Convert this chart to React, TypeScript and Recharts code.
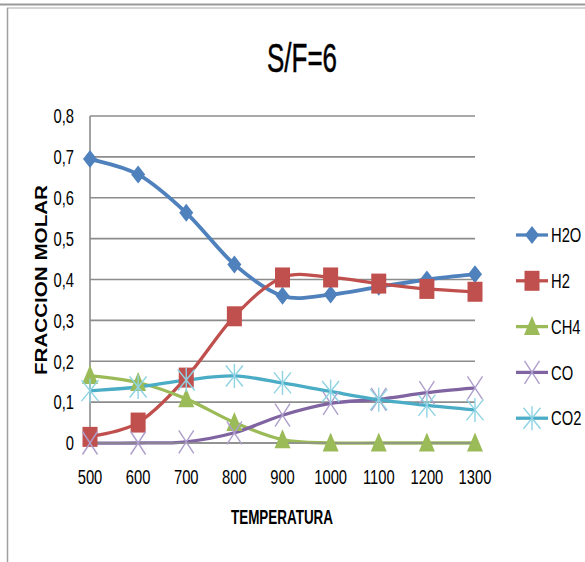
import { LineChart, Line, XAxis, YAxis, CartesianGrid, Legend } from 'recharts'

const temperatures = ['500', '600', '700', '800', '900', '1000', '1100', '1200', '1300']
const h2oValues = [0.695, 0.657, 0.563, 0.437, 0.36, 0.363, 0.382, 0.4, 0.413]
const h2Values = [0.015, 0.05, 0.16, 0.31, 0.405, 0.405, 0.39, 0.377, 0.37]
const ch4Values = [0.165, 0.148, 0.108, 0.05, 0.008, 0, 0, 0, 0]
const coValues = [0, 0, 0.003, 0.025, 0.068, 0.097, 0.107, 0.123, 0.135]
const co2Values = [0.128, 0.137, 0.154, 0.164, 0.147, 0.126, 0.106, 0.092, 0.081]
const yTicks = [0, 0.1, 0.2, 0.3, 0.4, 0.5, 0.6, 0.7, 0.8]

const FONT = "'Liberation Sans', Arial, sans-serif"
const GRID = '#8c8c8c'
// labels are drawn tall and narrow
const SQUEEZE = 0.72

type Marker = 'diamond' | 'square' | 'triangle' | 'cross' | 'star'

const SERIES: { key: string; name: string; values: number[]; color: string; markColor: string; marker: Marker; width: number }[] = [
  { key: 'h2o', name: 'H2O', values: h2oValues, color: '#4F81BD', markColor: '#4F81BD', marker: 'diamond', width: 3.8 },
  { key: 'h2', name: 'H2', values: h2Values, color: '#C0504D', markColor: '#C0504D', marker: 'square', width: 3.3 },
  { key: 'ch4', name: 'CH4', values: ch4Values, color: '#9BBB59', markColor: '#9BBB59', marker: 'triangle', width: 3.3 },
  { key: 'co', name: 'CO', values: coValues, color: '#8064A2', markColor: '#AE9ECB', marker: 'cross', width: 3.3 },
  { key: 'co2', name: 'CO2', values: co2Values, color: '#4BACC6', markColor: '#8ED3E4', marker: 'star', width: 3.3 },
]

const data = temperatures.map((t, i) => {
  const row: Record<string, number | string> = { temp: t }
  SERIES.forEach((s) => {
    row[s.key] = s.values[i]
  })
  return row
})

// smooth curve through every point (cubic bezier, catmull-rom style handles)
function smoothCurve(context: any) {
  let pts: number[][] = []
  return {
    areaStart() {},
    areaEnd() {},
    lineStart() {
      pts = []
    },
    point(x: number, y: number) {
      pts.push([+x, +y])
    },
    lineEnd() {
      if (!pts.length) return
      context.moveTo(pts[0][0], pts[0][1])
      for (let i = 0; i < pts.length - 1; i++) {
        const p0 = pts[i - 1] || pts[i]
        const p1 = pts[i]
        const p2 = pts[i + 1]
        const p3 = pts[i + 2] || p2
        context.bezierCurveTo(
          p1[0] + (p2[0] - p0[0]) / 6,
          p1[1] + (p2[1] - p0[1]) / 6,
          p2[0] - (p3[0] - p1[0]) / 6,
          p2[1] - (p3[1] - p1[1]) / 6,
          p2[0],
          p2[1]
        )
      }
    },
  }
}

function MarkerShape({ type, x, y, color }: { type: Marker; x: number; y: number; color: string }) {
  switch (type) {
    case 'diamond':
      return <polygon points={`${x},${y - 9} ${x + 7},${y} ${x},${y + 9} ${x - 7},${y}`} fill={color} />
    case 'square':
      return <rect x={x - 7.5} y={y - 10} width={15} height={20} fill={color} />
    case 'triangle':
      return <polygon points={`${x},${y - 10.5} ${x + 8},${y + 8.5} ${x - 8},${y + 8.5}`} fill={color} />
    case 'cross':
      return (
        <g stroke={color} strokeWidth={1.4}>
          <line x1={x - 7.5} y1={y - 11.5} x2={x + 7.5} y2={y + 11.5} />
          <line x1={x - 7.5} y1={y + 11.5} x2={x + 7.5} y2={y - 11.5} />
        </g>
      )
    case 'star':
      return (
        <g stroke={color} strokeWidth={1.4}>
          <line x1={x - 8.5} y1={y - 10.5} x2={x + 8.5} y2={y + 10.5} />
          <line x1={x - 8.5} y1={y + 10.5} x2={x + 8.5} y2={y - 10.5} />
          <line x1={x} y1={y - 12} x2={x} y2={y + 12} />
        </g>
      )
  }
  return null
}

const makeDot = (type: Marker, color: string) => (props: any) => {
  const { cx, cy, index } = props
  if (cx == null || cy == null) return <g key={index} />
  return (
    <g key={index}>
      <MarkerShape type={type} x={cx} y={cy} color={color} />
    </g>
  )
}

function XTick(props: any) {
  const { x, y, payload } = props
  return (
    <text transform={`translate(${x},${y}) scale(${SQUEEZE},1)`} textAnchor="middle" dy="0.71em" fontFamily={FONT} fontSize={20.5} fill="#000">
      {payload.value}
    </text>
  )
}

function YTick(props: any) {
  const { x, y, payload } = props
  const v: number = payload.value
  const label = v === 0 ? '0' : v.toFixed(1).replace('.', ',')
  return (
    <text transform={`translate(${x},${y}) scale(${SQUEEZE},1)`} textAnchor="end" dy="0.355em" fontFamily={FONT} fontSize={20.5} fill="#000">
      {label}
    </text>
  )
}

function LegendBox({ payload }: any) {
  const shown = new Set((payload || []).map((p: any) => p.value))
  return (
    <svg width={70} height={210} style={{ overflow: 'visible' }}>
      {SERIES.filter((s) => shown.has(s.name)).map((s, i) => {
        const y = 13 + i * 45.8
        return (
          <g key={s.key}>
            <line x1={3} y1={y} x2={35} y2={y} stroke={s.color} strokeWidth={3.3} />
            <MarkerShape type={s.marker} x={19} y={y} color={s.markColor} />
            <text transform={`translate(38,${y}) scale(${SQUEEZE},1)`} dy="0.355em" fontFamily={FONT} fontSize={20.5} fill="#000">
              {s.name}
            </text>
          </g>
        )
      })}
    </svg>
  )
}

export default function App() {
  return (
    <div style={{ position: 'absolute', left: 0, top: 0, width: 585, height: 562, background: '#fff' }}>
      <svg width={585} height={562} style={{ position: 'absolute', left: 0, top: 0 }}>
        <line x1={0} y1={4.5} x2={585} y2={4.5} stroke="#9a9a9a" strokeWidth={2} />
        <line x1={7} y1={8} x2={585} y2={8} stroke="#c4c4c4" strokeWidth={1.5} />
        <line x1={7.5} y1={8} x2={7.5} y2={562} stroke="#a0a0a0" strokeWidth={1.5} />
        <text
          x={302}
          y={72}
          textAnchor="middle"
          fontFamily={FONT}
          fontSize={40}
          textLength={70}
          lengthAdjust="spacingAndGlyphs"
          fill="#000"
          stroke="#000"
          strokeWidth={0.5}
        >
          S/F=6
        </text>
        <text x={282} y={524} textAnchor="middle" fontFamily={FONT} fontSize={20} fontWeight="bold" textLength={102} lengthAdjust="spacingAndGlyphs" fill="#000">
          TEMPERATURA
        </text>
        <text
          x={0}
          y={0}
          transform="translate(47,280) rotate(-90)"
          textAnchor="middle"
          fontFamily={FONT}
          fontSize={16.5}
          fontWeight="bold"
          textLength={190}
          lengthAdjust="spacingAndGlyphs"
          fill="#000"
        >
          FRACCION MOLAR
        </text>
      </svg>
      <div style={{ position: 'absolute', left: 0, top: 0 }}>
        <LineChart width={585} height={562} data={data} margin={{ top: 116, right: 110, bottom: 89, left: 30 }}>
          <CartesianGrid horizontal vertical={false} stroke={GRID} strokeWidth={1.6} />
          <XAxis
            dataKey="temp"
            axisLine={{ stroke: GRID, strokeWidth: 1.6 }}
            tickLine={false}
            tickSize={0}
            tickMargin={26}
            interval={0}
            tick={<XTick />}
          />
          <YAxis
            domain={[0, 0.8]}
            ticks={yTicks}
            axisLine={{ stroke: GRID, strokeWidth: 1.6 }}
            tickLine={false}
            tickSize={0}
            tickMargin={16}
            tick={<YTick />}
          />
          <Legend
            layout="vertical"
            align="center"
            verticalAlign="middle"
            width={70}
            wrapperStyle={{ left: 513, top: 222, width: 70 }}
            content={<LegendBox />}
          />
          {SERIES.map((s) => (
            <Line
              key={s.key}
              dataKey={s.key}
              name={s.name}
              type={smoothCurve as any}
              stroke={s.color}
              strokeWidth={s.width}
              dot={makeDot(s.marker, s.markColor)}
              activeDot={false}
              isAnimationActive={false}
            />
          ))}
        </LineChart>
      </div>
    </div>
  )
}
